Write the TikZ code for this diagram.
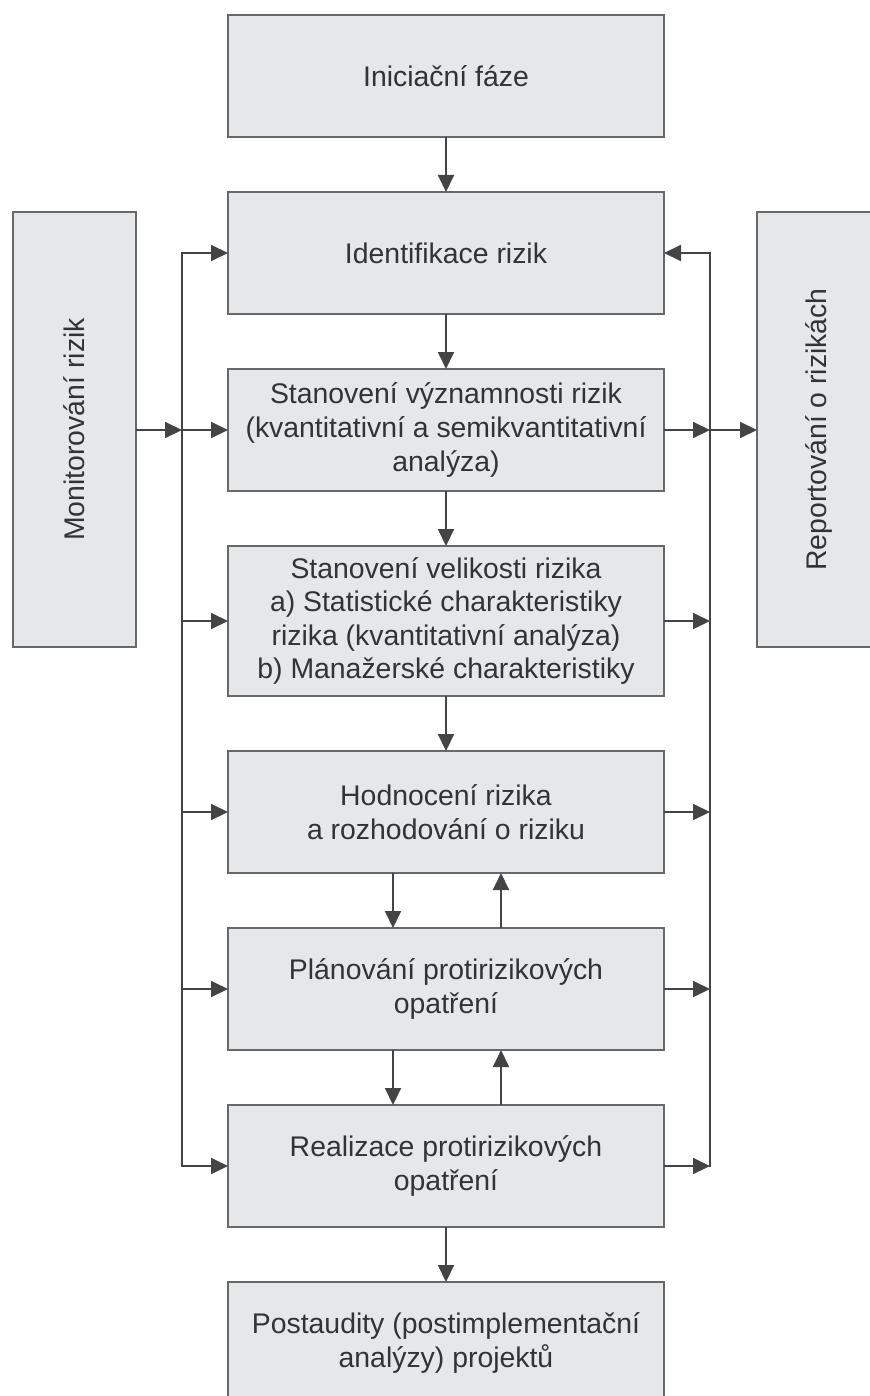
\documentclass[tikz,border=0pt]{standalone}
\usepackage{fontspec}
\setmainfont{Liberation Sans}
\usetikzlibrary{arrows.meta}
\definecolor{boxfill}{HTML}{E6E7E9}
\definecolor{boxline}{HTML}{686868}
\definecolor{txtcol}{HTML}{333333}
\definecolor{lncol}{HTML}{444444}
\begin{document}
\begin{tikzpicture}[x=0.5pt,y=-0.5pt,
  box/.style={draw=boxline, fill=boxfill, line width=1.2pt, inner sep=0pt, outer sep=0pt,
    minimum width=218pt, minimum height=61pt, align=center, text=txtcol,
    font=\fontsize{14.2}{16.8}\selectfont},
  sidebox/.style={box, minimum width=61.5pt, minimum height=217.5pt},
  conn/.style={draw=lncol, line width=1pt, line cap=rect},
  arr/.style={draw=lncol, line width=1pt, -{Triangle[length=8.5pt,width=8pt]}}]
\useasboundingbox (0,0) rectangle (869,1396);
\node[box] (ini) at (446,76) {Iniciační fáze};
\node[box] (ide) at (446,253) {Identifikace rizik};
\node[box] (sv) at (446,430) {Stanovení významnosti rizik\\(kvantitativní a semikvantitativní\\analýza)};
\node[box, minimum height=75pt] (svel) at (446,621) {Stanovení velikosti rizika\\a) Statistické charakteristiky\\rizika (kvantitativní analýza)\\b) Manažerské charakteristiky};
\node[box] (hod) at (446,812) {Hodnocení rizika\\a rozhodování o riziku};
\node[box] (plan) at (446,989) {Plánování protirizikových\\opatření};
\node[box] (real) at (446,1166) {Realizace protirizikových\\opatření};
\node[box] (post) at (446,1343) {Postaudity (postimplementační\\analýzy) projektů};
\node[sidebox] (mon) at (74.5,429.5) {\rotatebox{90}{Monitorování rizik}};
\node[sidebox] (rep) at (818.5,429.5) {\rotatebox{90}{Reportování o rizikách}};
\coordinate (lx) at (182,0);
\coordinate (rx) at (710,0);
\coordinate (dx) at (393,0);
\coordinate (ux) at (501,0);
% main chain
\draw[arr] (ini) -- (ide);
\draw[arr] (ide) -- (sv);
\draw[arr] (sv) -- (svel);
\draw[arr] (svel) -- (hod);
\draw[arr] (hod.south -| dx) -- (plan.north -| dx);
\draw[arr] (plan.north -| ux) -- (hod.south -| ux);
\draw[arr] (plan.south -| dx) -- (real.north -| dx);
\draw[arr] (real.north -| ux) -- (plan.south -| ux);
\draw[arr] (real) -- (post);
% left feedback line
\draw[conn] (ide.west -| lx) -- (real.west -| lx);
\foreach \n in {ide,sv,svel,hod,plan,real} \draw[arr] (\n.west -| lx) -- (\n.west);
\draw[arr] (mon.east |- sv.west) -- (sv.west -| lx);
% right reporting line
\draw[conn] (ide.east -| rx) -- (real.east -| rx);
\draw[arr] (ide.east -| rx) -- (ide.east);
\foreach \n in {sv,svel,hod,plan,real} \draw[arr] (\n.east) -- (\n.east -| rx);
\draw[arr] (sv.east -| rx) -- (rep.west |- sv.east);
\end{tikzpicture}
\end{document}
